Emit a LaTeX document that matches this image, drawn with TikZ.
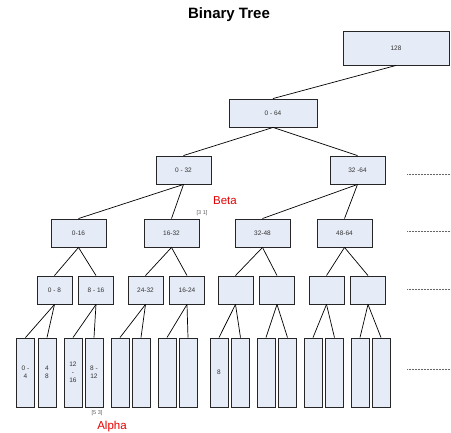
\documentclass[tikz,border=0pt]{standalone}
\usepackage{fontspec}
\setmainfont{Liberation Sans}
\definecolor{boxfill}{HTML}{E6ECF7}
\definecolor{boxtext}{HTML}{333333}
\tikzset{
  bx/.style={draw=black!85, fill=boxfill, line width=0.9pt, inner sep=0pt, font=\fontsize{6.5}{8}\selectfont, text=boxtext, align=center},
  big/.style={bx, minimum width=55pt, minimum height=28pt},
  mid/.style={bx, minimum width=35pt, minimum height=28pt},
  leaf/.style={bx, minimum width=18pt, minimum height=69pt},
  edge/.style={draw=black, line width=0.7pt},
  dots/.style={draw=black!60, line width=0.9pt, dash pattern=on 1pt off 0.5pt},
  note/.style={font=\fontsize{5.5}{6.5}\selectfont, text=black!65, inner sep=0pt},
  redlbl/.style={font=\fontsize{11.5}{13}\selectfont, text=red!90!black, inner sep=0pt}
}
\begin{document}
\begin{tikzpicture}[x=1pt,y=-1pt]
\useasboundingbox (0,0) rectangle (451,433);
\node[font=\bfseries\fontsize{15}{17}\selectfont, inner sep=0pt] (title) at (229,15) {Binary Tree};
% level 0 and 1
\node[bx, minimum width=106pt, minimum height=34pt] (r) at (396,48) {128};
\node[bx, minimum width=88pt, minimum height=28pt] (a) at (273,113) {0 - 64};
% level 2
\node[big] (b1) at (183.5,170) {0 - 32};
\node[big] (b2) at (357.5,170) {32 -64};
% level 3
\node[big] (c1) at (78.5,233) {0-16};
\node[big] (c2) at (171.5,233) {16-32};
\node[big] (c3) at (262.5,233) {32-48};
\node[big] (c4) at (344.5,233) {48-64};
% level 4
\node[mid] (d1) at (54.5,290) {0 - 8};
\node[mid] (d2) at (96,290) {8 - 16};
\node[mid] (d3) at (145.5,290) {24-32};
\node[mid] (d4) at (187,290) {16-24};
\node[mid] (d5) at (235.5,290) {};
\node[mid] (d6) at (277,290) {};
\node[mid] (d7) at (326.5,290) {};
\node[mid] (d8) at (368,290) {};
% level 5
\node[leaf] (e1) at (25.5,372.5) {0 -\\4};
\node[leaf] (e2) at (47,372.5) {4\\8};
\node[leaf] (e3) at (73,372.5) {12\\-\\16};
\node[leaf] (e4) at (94,372.5) {8 -\\12};
\node[leaf] (e5) at (120,372.5) {};
\node[leaf] (e6) at (141,372.5) {};
\node[leaf] (e7) at (167,372.5) {};
\node[leaf] (e8) at (188,372.5) {};
\node[leaf] (e9) at (219,372.5) {8};
\node[leaf] (e10) at (240.5,372.5) {};
\node[leaf] (e11) at (266,372.5) {};
\node[leaf] (e12) at (287.5,372.5) {};
\node[leaf] (e13) at (313,372.5) {};
\node[leaf] (e14) at (334.5,372.5) {};
\node[leaf] (e15) at (360,372.5) {};
\node[leaf] (e16) at (381,372.5) {};
% edges
\draw[edge] (r.south) -- (a.north);
\draw[edge] (a.south) -- (b1.north);
\draw[edge] (a.south) -- (b2.north);
\draw[edge] (b1.south) -- (c1.north);
\draw[edge] (b1.south) -- (c2.north);
\draw[edge] (b2.south) -- (c3.north);
\draw[edge] (b2.south) -- (c4.north);
\draw[edge] (c1.south) -- (d1.north);
\draw[edge] (c1.south) -- (d2.north);
\draw[edge] (c2.south) -- (d3.north);
\draw[edge] (c2.south) -- (d4.north);
\draw[edge] (c3.south) -- (d5.north);
\draw[edge] (c3.south) -- (d6.north);
\draw[edge] (c4.south) -- (d7.north);
\draw[edge] (c4.south) -- (d8.north);
\foreach \p/\l/\m in {d1/e1/e2, d2/e3/e4, d3/e5/e6, d4/e7/e8, d5/e9/e10, d6/e11/e12, d7/e13/e14, d8/e15/e16}{
  \draw[edge] (\p.south) -- (\l.north);
  \draw[edge] (\p.south) -- (\m.north);
}
% dotted level markers
\foreach \i/\y in {1/174, 2/231, 3/289, 4/369}{
  \coordinate (ds\i) at (407,\y);
  \coordinate (de\i) at (451,\y);
  \draw[dots] (ds\i) -- (de\i);
}
% labels
\node[redlbl] (beta) at (225,201) {Beta};
\node[note] (n31) at (202,213) {[3 1]};
\node[note] (n53) at (97,413) {[5 3]};
\node[redlbl] (alpha) at (112,427) {Alpha};
\end{tikzpicture}
\end{document}
